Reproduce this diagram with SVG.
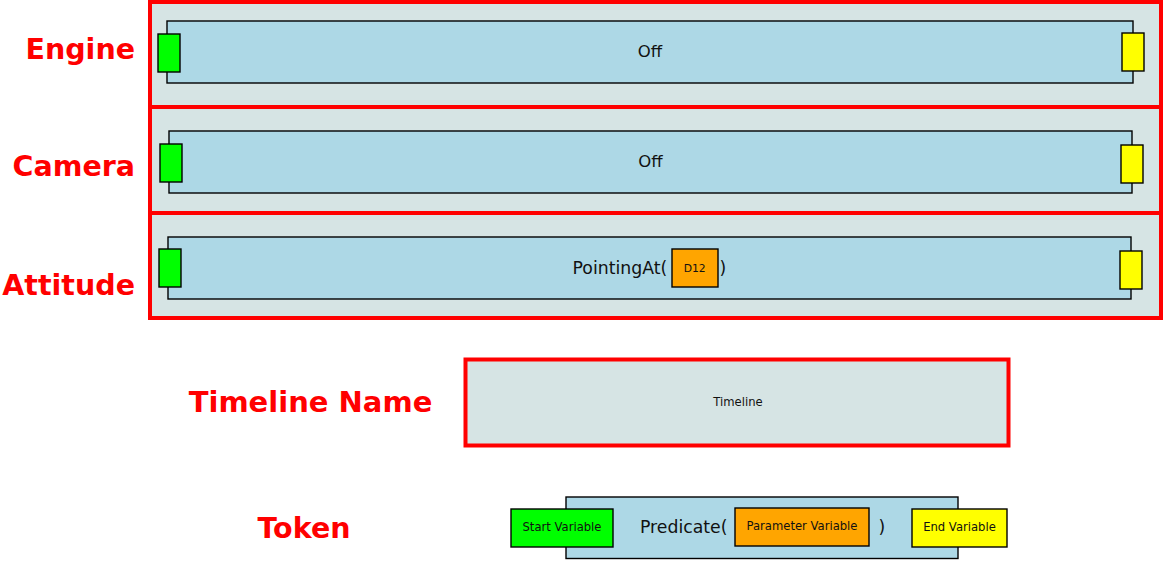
<svg xmlns="http://www.w3.org/2000/svg" width="1166" height="562" viewBox="0 0 1166 562">
<style>
.lane{fill:#d6e4e4;stroke:#ff0000;stroke-width:4}
.tok{fill:#add8e6;stroke:#000;stroke-width:1.4}
.st{fill:#00ff00;stroke:#000;stroke-width:1.4}
.en{fill:#ffff00;stroke:#000;stroke-width:1.4}
.pa{fill:#ffa500;stroke:#000;stroke-width:1.4}
.lbl{font-family:"DejaVu Sans",sans-serif;font-weight:bold;font-size:28.5px;fill:#ff0000;text-anchor:end}
.lblc{font-family:"DejaVu Sans",sans-serif;font-weight:bold;font-size:29px;fill:#ff0000;text-anchor:middle}
.big{font-family:"DejaVu Sans",sans-serif;font-size:17.3px;fill:#111}
.sm{font-family:"DejaVu Sans",sans-serif;font-size:11.6px;fill:#111;text-anchor:middle}
</style>
<g id="engine">
<rect class="lane" x="150" y="2" width="1011" height="105"/>
<rect class="tok" x="167" y="21" width="966" height="62"/>
<rect class="st" x="158" y="34" width="22" height="38"/>
<rect class="en" x="1122" y="33" width="22" height="38"/>
<text class="big" x="650" y="57" text-anchor="middle" style="font-size:16.5px">Off</text>
<text class="lbl" x="135" y="59">Engine</text>
</g>
<g id="camera">
<rect class="lane" x="150" y="107" width="1011" height="106"/>
<rect class="tok" x="169" y="131" width="963" height="62"/>
<rect class="st" x="160" y="144" width="22" height="38"/>
<rect class="en" x="1121" y="145" width="22" height="38"/>
<text class="big" x="650.5" y="167" text-anchor="middle" style="font-size:16.5px">Off</text>
<text class="lbl" x="135" y="176">Camera</text>
</g>
<g id="attitude">
<rect class="lane" x="150" y="213" width="1011" height="105"/>
<rect class="tok" x="168" y="237" width="963" height="62"/>
<rect class="st" x="159" y="249" width="22" height="38"/>
<rect class="en" x="1120" y="251" width="22" height="38"/>
<text class="big" x="572.5" y="274">PointingAt(</text>
<rect class="pa" x="672" y="249" width="46" height="38"/>
<text class="sm" x="694.7" y="271.5" style="font-size:10.8px">D12</text>
<text class="big" x="719.5" y="274">)</text>
<text class="lbl" x="135" y="295">Attitude</text>
</g>
<g id="legend-timeline">
<text class="lblc" x="310.5" y="412">Timeline Name</text>
<rect class="lane" x="465.5" y="359.5" width="543" height="86"/>
<text class="sm" x="738" y="406">Timeline</text>
</g>
<g id="legend-token">
<text class="lblc" x="304" y="538" style="font-size:28.5px">Token</text>
<rect class="tok" x="566" y="497" width="392" height="61.5"/>
<rect class="st" x="511" y="509" width="102" height="38"/>
<text class="sm" x="562" y="531">Start Variable</text>
<text class="big" x="640" y="533">Predicate(</text>
<rect class="pa" x="735" y="508" width="134" height="38"/>
<text class="sm" x="802" y="529.5">Parameter Variable</text>
<text class="big" x="878.5" y="533">)</text>
<rect class="en" x="912" y="509" width="95" height="38"/>
<text class="sm" x="959.5" y="531">End Variable</text>
</g>
<g id="connectors"/>
</svg>
